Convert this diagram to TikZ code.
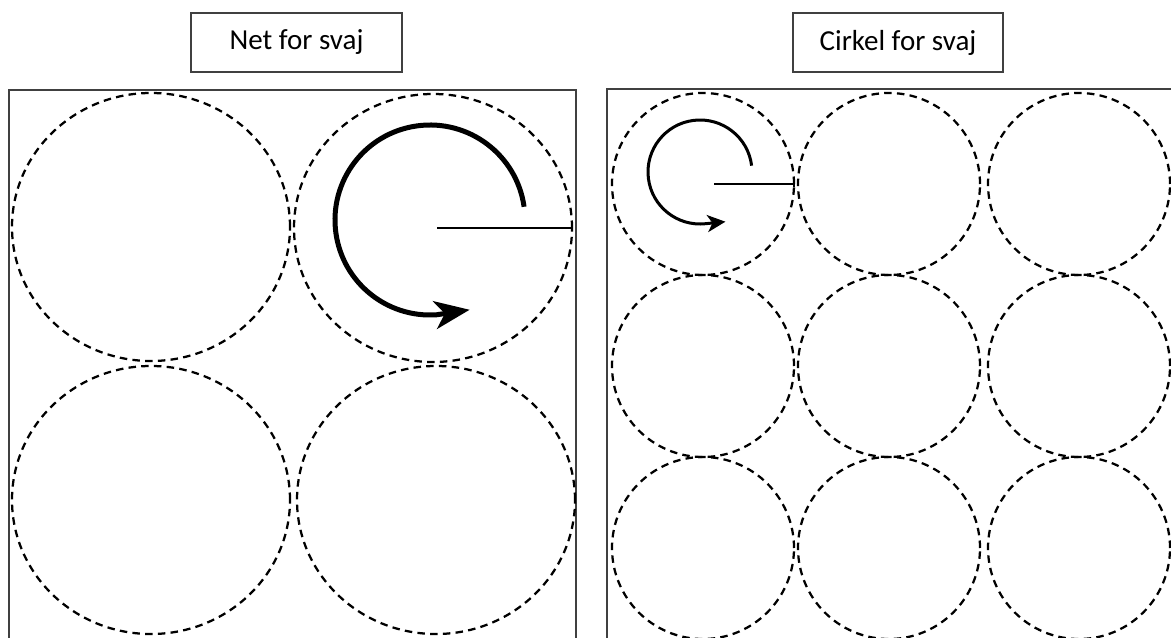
\documentclass[tikz,border=0pt]{standalone}
\usepackage{fontspec}
\setmainfont{Carlito}
\usetikzlibrary{shapes.geometric, arrows.meta, positioning}
\tikzset{
  frame/.style={draw=black!75, line width=0.3mm},
  titlebox/.style={draw=black!75, line width=0.3mm, minimum height=11.8mm,
                   align=center, font=\fontsize{16.5pt}{18pt}\selectfont},
  swing/.style={draw, dash pattern=on 1.5mm off 1.05mm, line width=0.45mm,
                inner sep=0pt},
  bigring/.style={swing, ellipse, minimum width=55.6mm, minimum height=53.6mm},
  smallring/.style={swing, circle, minimum size=36.4mm},
  radiusline/.style={line width=0.4mm, -{Bar[width=1.4mm]}},
  turn/.style={line width=1mm, -{Stealth[length=7mm, width=5.6mm, inset=2mm]}},
  smallturn/.style={line width=0.6mm, -{Stealth[length=3.6mm, width=3.4mm, inset=1mm]}}
}

\begin{document}
\begin{tikzpicture}[x=0.2mm, y=0.2mm]
  \useasboundingbox (0,0) rectangle (1171,637);
  \clip (0,0) rectangle (1171,637);

  % Titles
  \node[titlebox, minimum width=42.2mm] (nettitle) at (296.5,594.5) {Net for svaj};
  \node[titlebox, minimum width=42mm] (cirkeltitle) at (898,594.5) {Cirkel for svaj};

  % Square frames (run off the bottom)
  \draw[frame] (9,-20) -- (9,547) -- (576,547) -- (576,-20);
  \draw[frame] (607,-20) -- (607,548) -- (1180,548);

  % Net: 2 x 2 rings
  \node[bigring] (net-1-1) at (151,410) {};
  \node[bigring] (net-1-2) at (433,409) {};
  \node[bigring] (net-2-1) at (151,137) {};
  \node[bigring] (net-2-2) at (436,137) {};

  % Cirkel: 3 x 3 rings
  \foreach \col/\x in {1/703, 2/889, 3/1079}
    \foreach \row/\y in {1/453, 2/271, 3/89}
      \node[smallring] (cirkel-\row-\col) at (\x,\y) {};

  % Radius and direction of turn
  \coordinate (netpivot) at (430,417);
  \coordinate (cirkelpivot) at (700,465);
  \draw[radiusline] ([xshift=0.8mm]net-1-2.center) -- (net-1-2.east);
  \draw[turn] ([shift={(8:95)}]netpivot) arc[start angle=8, end angle=274, radius=19mm]
    -- ++(33,5);
  \draw[radiusline] ([xshift=2.2mm]cirkel-1-1.center) -- (cirkel-1-1.east);
  \draw[smallturn] ([shift={(7:52)}]cirkelpivot) arc[start angle=7, end angle=276, radius=10.4mm]
    -- ++(20,2);
\end{tikzpicture}
\end{document}
